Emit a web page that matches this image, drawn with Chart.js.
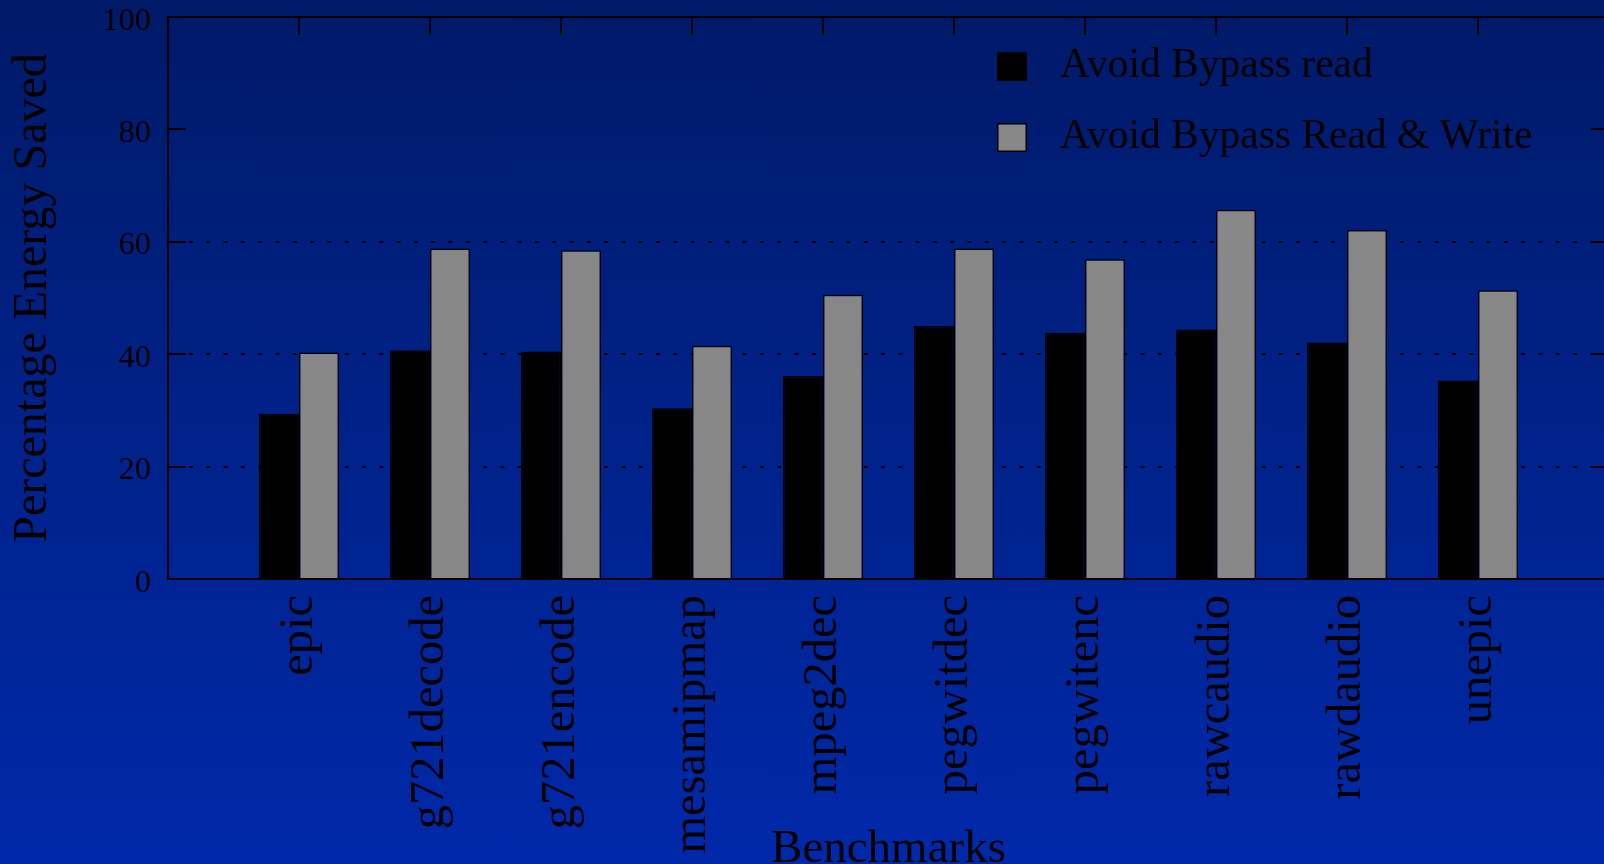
<!DOCTYPE html>
<html>
<head>
<meta charset="utf-8">
<script src="https://cdn.jsdelivr.net/npm/chart.js@4/dist/chart.umd.min.js"></script>
<style>
  html, body {
    margin: 0;
    padding: 0;
    width: 1604px;
    height: 864px;
    overflow: hidden;
    background: linear-gradient(to bottom, #001a68 0%, #0029aa 100%);
  }
  canvas { display: block; }
</style>
</head>
<body>
<canvas id="energy" width="1640" height="864"></canvas>
<script>
// Benchmarks and percentage of energy saved for each technique
const benchmarks = ['epic', 'g721decode', 'g721encode', 'mesamipmap', 'mpeg2dec',
                    'pegwitdec', 'pegwitenc', 'rawcaudio', 'rawdaudio', 'unepic'];
const avoidBypassRead      = [29.4, 40.7, 40.5, 30.4, 36.1, 45.0, 43.8, 44.4, 42.1, 35.3];
const avoidBypassReadWrite = [40.3, 58.8, 58.5, 41.5, 50.6, 58.8, 56.9, 65.7, 62.1, 51.4];
const seriesNames = ['Avoid Bypass read', 'Avoid Bypass Read & Write'];
const yTickValues = [0, 20, 40, 60, 80, 100];
const dottedGridValues = [20, 40, 60];

// one empty slot on each side keeps the groups away from the frame
const slotLabels = ['', ...benchmarks, ''];
const padSeries = arr => [null, ...arr, null];

const SERIF = 'Liberation Serif';

// frame, inward tick marks and the key, drawn in the style of a gnuplot figure
const frameAndKey = {
  id: 'frameAndKey',
  beforeDatasetsDraw(chart) {
    const { ctx, chartArea: a, scales: { x, y } } = chart;
    const tick = 18;
    ctx.save();
    ctx.strokeStyle = '#000';
    ctx.lineWidth = 2;
    ctx.beginPath();
    ctx.moveTo(a.left, a.top); ctx.lineTo(a.right, a.top);
    ctx.moveTo(a.right, a.top); ctx.lineTo(a.right, a.bottom);
    yTickValues.forEach(v => {
      const py = Math.round(y.getPixelForValue(v));
      ctx.moveTo(a.left, py); ctx.lineTo(a.left + tick, py);
      ctx.moveTo(a.right - tick, py); ctx.lineTo(a.right, py);
    });
    benchmarks.forEach(name => {
      const px = Math.round(x.getPixelForValue(slotLabels.indexOf(name)));
      ctx.moveTo(px, a.top); ctx.lineTo(px, a.top + tick);
      ctx.moveTo(px, a.bottom); ctx.lineTo(px, a.bottom - tick);
    });
    ctx.stroke();
    ctx.restore();
  },
  afterDatasetsDraw(chart) {
    const { ctx } = chart;
    ctx.save();
    chart.data.datasets.forEach((ds, i) => {
      const top = 52 + i * 71;
      ctx.fillStyle = ds.backgroundColor;
      ctx.fillRect(997, top, 30, 29);
      ctx.lineWidth = 1.5;
      ctx.strokeStyle = '#000';
      ctx.strokeRect(997.75, top + 0.75, 28.5, 27.5);
      ctx.fillStyle = '#000';
      ctx.font = '41.5px "' + SERIF + '"';
      ctx.textBaseline = 'alphabetic';
      ctx.textAlign = 'left';
      ctx.fillText(ds.label, 1060, top + 25);
    });
    ctx.restore();
  }
};

new Chart(document.getElementById('energy'), {
  type: 'bar',
  data: {
    labels: slotLabels,
    datasets: [
      {
        label: seriesNames[0],
        data: padSeries(avoidBypassRead),
        backgroundColor: '#000000',
        borderColor: '#000000',
        borderWidth: 1.5
      },
      {
        label: seriesNames[1],
        data: padSeries(avoidBypassReadWrite),
        backgroundColor: '#878787',
        borderColor: '#000000',
        borderWidth: 1.5
      }
    ]
  },
  options: {
    responsive: false,
    animation: false,
    devicePixelRatio: 1,
    layout: { padding: { top: 17, right: 31, left: 0, bottom: 0 } },
    datasets: { bar: { barPercentage: 1, categoryPercentage: 80 / 131 } },
    plugins: { legend: { display: false }, tooltip: { enabled: false } },
    scales: {
      x: {
        type: 'category',
        offset: false,
        grid: { display: false, drawTicks: false },
        border: { display: true, color: '#000', width: 2 },
        ticks: {
          autoSkip: false,
          minRotation: 90,
          maxRotation: 90,
          padding: 16,
          color: '#000',
          font: { family: SERIF, size: 48.5 }
        },
        title: {
          display: true,
          text: 'Benchmarks',
          color: '#000',
          font: { family: SERIF, size: 47 },
          padding: { top: 0, bottom: -14 }
        },
        afterFit(scale) {
          scale.height = 285;
          scale.paddingLeft = 0;
          scale.paddingRight = 0;
        }
      },
      y: {
        min: 0,
        max: 100,
        ticks: {
          stepSize: 20,
          padding: 17,
          labelOffset: 4,
          color: '#000',
          font: { family: SERIF, size: 32.5 }
        },
        grid: {
          drawTicks: false,
          lineWidth: 2,
          color: c => (c.tick && dottedGridValues.includes(c.tick.value)) ? '#000' : 'rgba(0,0,0,0)'
        },
        border: { display: true, color: '#000', width: 2, dash: [4, 13.3], dashOffset: 14.6 },
        title: {
          display: true,
          text: 'Percentage Energy Saved',
          color: '#000',
          font: { family: SERIF, size: 48 },
          padding: { top: 5, bottom: 0 }
        },
        afterFit(scale) {
          scale.width = 168;
          scale.paddingTop = 0;
          scale.paddingBottom = 0;
        }
      }
    }
  },
  plugins: [frameAndKey]
});
</script>
</body>
</html>
